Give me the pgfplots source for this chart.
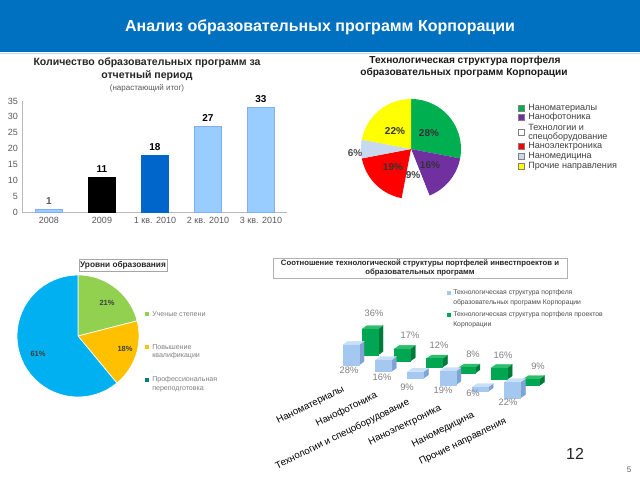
\documentclass[border=0pt]{standalone}
\usepackage{fontspec}
\setmainfont{Liberation Sans}
\usepackage{pgfplots}
\pgfplotsset{compat=1.18}
\definecolor{titleblue}{HTML}{0070C0}
\definecolor{lb}{HTML}{99CCFF}
\definecolor{db}{HTML}{0066CC}
\definecolor{pgreen}{HTML}{00B050}
\definecolor{ppurple}{HTML}{7030A0}
\definecolor{pred}{HTML}{FF0000}
\definecolor{plblue}{HTML}{C6D9F1}
\definecolor{pyellow}{HTML}{FFFF00}
\definecolor{lgreen}{HTML}{92D050}
\definecolor{lorange}{HTML}{FFC000}
\definecolor{lcyan}{HTML}{00B0F0}
\definecolor{cbF}{HTML}{A4C8F0}
\definecolor{cbS}{HTML}{7EA3D4}
\definecolor{cbT}{HTML}{C9DEF7}
\definecolor{cgF}{HTML}{00A651}
\definecolor{cgS}{HTML}{007A3A}
\definecolor{cgT}{HTML}{2DBE6C}
\definecolor{tgray}{HTML}{595959}
\definecolor{lgray}{HTML}{808080}
\newcommand\fs[2]{\fontsize{#1}{#2}\selectfont}
% pie slice: running angle, starting at 90 deg, clockwise
\newcommand\pieinit[3]{\gdef\pcx{#1}\gdef\pcy{#2}\gdef\prr{#3}\gdef\pang{90}}
\newcommand\pieslice[3]{% percent, fill, draw
  \pgfmathsetmacro\pnew{\pang-3.6*#1}%
  \edef\doslice{\noexpand\addplot[fill=#2, draw=#3, line width=0.5pt, domain=\pnew:\pang, samples=40, variable=\noexpand\t] ({\pcx+\prr*cos(\noexpand\t)},{\pcy-\prr*sin(\noexpand\t)}) -- (axis cs:\pcx,\pcy) -- cycle;}%
  \doslice
  \global\let\pang\pnew}
% pseudo-3D bar: x, base, value, front, side, top
\newcommand\cubebar[6]{%
  \pgfmathsetmacro\xa{#1}%
  \pgfmathsetmacro\xb{#1+16}%
  \pgfmathsetmacro\xc{#1+21}%
  \pgfmathsetmacro\xd{#1+5}%
  \pgfmathsetmacro\ya{#2}%
  \pgfmathsetmacro\yt{#2-0.72*#3}%
  \pgfmathsetmacro\yad{#2-3.5}%
  \pgfmathsetmacro\ytd{#2-0.72*#3-3.5}%
  \edef\docube{%
   \noexpand\addplot[fill=#5, draw=#5, line width=0.2pt] coordinates {(\xb,\ya) (\xc,\yad) (\xc,\ytd) (\xb,\yt)} -- cycle;%
   \noexpand\addplot[fill=#6, draw=#6, line width=0.2pt] coordinates {(\xa,\yt) (\xb,\yt) (\xc,\ytd) (\xd,\ytd)} -- cycle;%
   \noexpand\addplot[fill=#4, draw=#4, line width=0.2pt] coordinates {(\xa,\ya) (\xb,\ya) (\xb,\yt) (\xa,\yt)} -- cycle;%
  }\docube}
\begin{document}
\begin{tikzpicture}[x=0.75pt,y=-0.75pt]
\useasboundingbox (0,0) rectangle (640,480);
\fill[white] (0,0) rectangle (640,480);
\fill[titleblue] (0,0) rectangle (640,52);
\draw[titleblue!25, line width=0.75pt] (0,53) -- (640,53);
\node[white, font=\bfseries\fs{12}{14}, inner sep=0] at (320,27) {Анализ образовательных программ Корпорации};

% ---------- bar chart ----------
\begin{axis}[
  at={(22.5*0.75pt,-212*0.75pt)}, anchor=south west,
  scale only axis, width=198.75pt, height=83.25pt,
  xmin=-0.5, xmax=4.5, ymin=0, ymax=35,
  axis x line=bottom, axis y line=left,
  axis line style={draw=gray!55, -},
  xtick={0,...,4},
  xticklabels={2008,2009,1 кв. 2010,2 кв. 2010,3 кв. 2010},
  ytick={0,5,...,35},
  major tick length=0pt,
  tick label style={font=\fs{6.75}{8}, text=tgray},
  /pgf/number format/assume math mode=true,
  ybar, bar width=20.25pt, bar shift=0pt,
  nodes near coords,
  nodes near coords style={font=\bfseries\fs{7.5}{9}, text=black},
  clip=false,
]
\addplot[fill=lb, draw=lb!85!blue, bar shift=0pt, every node near coord/.append style={text=tgray}] coordinates {(0,1)};
\addplot[fill=black, draw=black, bar shift=0pt] coordinates {(1,11)};
\addplot[fill=db, draw=db, bar shift=0pt] coordinates {(2,18)};
\addplot[fill=lb, draw=lb!85!blue, bar shift=0pt] coordinates {(3,27) (4,33)};
\end{axis}
\node[font=\bfseries\fs{7.9}{9}, text=black!85, inner sep=0] at (147,63) {Количество образовательных программ за};
\node[font=\bfseries\fs{7.9}{9}, text=black!85, inner sep=0] at (147,76) {отчетный период};
\node[font=\fs{6}{7}, text=tgray, inner sep=0] at (147,88) {(нарастающий итог)};

% ---------- canvas axis: pies and 3D bars ----------
\begin{axis}[
  at={(0pt,0pt)}, anchor=north west,
  scale only axis, width=480pt, height=360pt,
  xmin=0, xmax=640, ymin=0, ymax=480, y dir=reverse,
  hide axis, clip=false,
]
% top-right pie (percent)
\pieinit{411}{149}{50}
\pieslice{28}{pgreen}{none}
\pieslice{16}{ppurple}{none}
\pieslice{9}{white}{none}
\pieslice{19}{pred}{none}
\pieslice{6}{plblue}{none}
\pieslice{22}{pyellow}{none}
% bottom-left pie (percent)
\pieinit{78}{336}{61}
\pieslice{21}{lgreen}{white}
\pieslice{18}{lorange}{white}
\pieslice{61}{lcyan}{white}
% 3D bars: green (projects) behind, blue (education) in front
\cubebar{362+32.3*0}{355+6.1*0}{36}{cgF}{cgS}{cgT}
\cubebar{362+32.3*1}{355+6.1*1}{17}{cgF}{cgS}{cgT}
\cubebar{362+32.3*2}{355+6.1*2}{12}{cgF}{cgS}{cgT}
\cubebar{362+32.3*3}{355+6.1*3}{8}{cgF}{cgS}{cgT}
\cubebar{362+32.3*4}{355+6.1*4}{16}{cgF}{cgS}{cgT}
\cubebar{362+32.3*5}{355+6.1*5}{9}{cgF}{cgS}{cgT}
\cubebar{343+32.3*0}{365+6.6*0}{28}{cbF}{cbS}{cbT}
\cubebar{343+32.3*1}{365+6.6*1}{16}{cbF}{cbS}{cbT}
\cubebar{343+32.3*2}{365+6.6*2}{9}{cbF}{cbS}{cbT}
\cubebar{343+32.3*3}{365+6.6*3}{19}{cbF}{cbS}{cbT}
\cubebar{343+32.3*4}{365+6.6*4}{6}{cbF}{cbS}{cbT}
\cubebar{343+32.3*5}{365+6.6*5}{22}{cbF}{cbS}{cbT}
\end{axis}

% top-right pie title, labels, legend
\node[font=\bfseries\fs{7.6}{9}, text=black!90, inner sep=0] at (465,61) {Технологическая структура портфеля};
\node[font=\bfseries\fs{7.6}{9}, text=black!90, inner sep=0] at (464,73) {образовательных программ Корпорации};
\begin{scope}[every node/.style={font=\bfseries\fs{7.5}{9}, inner sep=0}]
\node[text=black!80] at (429,133) {28\%};
\node[text=black!80] at (430,165) {16\%};
\node[text=black!75] at (413,175) {9\%};
\node[text=black!80] at (393,167) {19\%};
\node[text=black!70] at (355,153) {6\%};
\node[text=black!80] at (395,131) {22\%};
\end{scope}
\begin{scope}[every node/.style={font=\fs{6.8}{8}, text=black!75, inner sep=0, anchor=west}]
\filldraw[fill=pgreen, draw=gray, line width=0.3pt] (518,105) rectangle (524,111);
\node at (528,108) {Наноматериалы};
\filldraw[fill=ppurple, draw=gray, line width=0.3pt] (518,114) rectangle (524,120);
\node at (528,117) {Нанофотоника};
\filldraw[fill=white, draw=gray, line width=0.3pt] (518,129) rectangle (524,135);
\node at (528,127) {Технологии и};
\node at (528,137.5) {спецоборудование};
\filldraw[fill=pred, draw=gray, line width=0.3pt] (518,143) rectangle (524,149);
\node at (528,146) {Наноэлектроника};
\filldraw[fill=plblue, draw=gray, line width=0.3pt] (518,153) rectangle (524,159);
\node at (528,156) {Наномедицина};
\filldraw[fill=pyellow, draw=gray, line width=0.3pt] (518,163) rectangle (524,169);
\node at (528,166) {Прочие направления};
\end{scope}

% bottom-left pie title, labels, legend
\draw[gray!70, line width=0.5pt] (79,259) rectangle (167,271);
\node[font=\bfseries\fs{6.2}{7}, text=black!85, inner sep=0] at (123,265) {Уровни образования};
\begin{scope}[every node/.style={font=\bfseries\fs{5.6}{7}, text=black!75, inner sep=0}]
\node at (107,303) {21\%};
\node at (125,349) {18\%};
\node at (38,354) {61\%};
\end{scope}
\begin{scope}[every node/.style={font=\fs{5.3}{6.5}, text=gray, inner sep=0, anchor=west}]
\fill[lgreen] (145,312) rectangle (149,316);
\node at (152,314) {Ученые степени};
\fill[lorange] (145,345) rectangle (149,349);
\node at (152,347) {Повышение};
\node at (152,356) {квалификации};
\fill[teal] (145,378) rectangle (149,382);
\node at (152,380) {Профессиональная};
\node at (152,389) {переподготовка};
\end{scope}

% 3D chart title, legend, labels
\draw[gray!60, line width=0.5pt] (273,258) rectangle (567,278);
\node[font=\bfseries\fs{5.8}{7}, text=black!85, inner sep=0] at (420,263.5) {Соотношение технологической структуры портфелей инвестпроектов и};
\node[font=\bfseries\fs{5.8}{7}, text=black!85, inner sep=0] at (420,272.5) {образовательных программ};
\begin{scope}[every node/.style={font=\fs{5.1}{6}, text=black!70, inner sep=0, anchor=west}]
\fill[cbF] (447,291) rectangle (451,295);
\node at (453,293) {Технологическая структура портфеля};
\node at (453,302.5) {образовательных программ Корпорации};
\fill[cgF] (447,313) rectangle (451,317);
\node at (453,315) {Технологическая структура портфеля проектов};
\node at (453,324.5) {Корпорации};
\end{scope}
\begin{scope}[every node/.style={font=\fs{7}{8}, text=lgray, inner sep=0}]
\node at (374,313) {36\%};
\node at (410,335) {17\%};
\node at (439,345) {12\%};
\node at (473,354) {8\%};
\node at (503,355) {16\%};
\node at (538,366) {9\%};
\node at (349,370) {28\%};
\node at (382,377) {16\%};
\node at (407,387) {9\%};
\node at (443,390) {19\%};
\node at (473,393) {6\%};
\node at (508,402) {22\%};
\end{scope}
\begin{scope}[every node/.style={font=\fs{7.3}{8}, text=black, inner sep=0, anchor=east, rotate=26}]
\node at (344,389) {Наноматериалы};
\node at (377,395) {Нанофотоника};
\node at (409,402) {Технологии и спецоборудование};
\node at (441,408) {Наноэлектроника};
\node at (474,415) {Наномедицина};
\node at (506,421) {Прочие направления};
\end{scope}
\node[font=\fs{12}{14}, text=black!85, inner sep=0] at (575,454) {12};
\node[font=\fs{6}{7}, text=tgray, inner sep=0] at (629,470) {5};
\end{tikzpicture}
\end{document}
